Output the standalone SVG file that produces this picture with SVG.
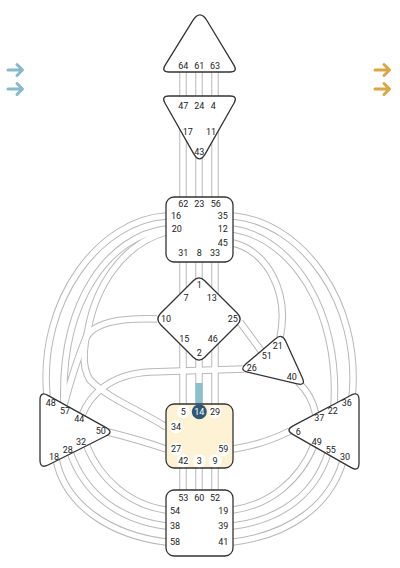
<svg xmlns="http://www.w3.org/2000/svg" width="400" height="568" viewBox="0 0 400 568">
<style>
.ch{fill:none;stroke:#b8b8b8;stroke-width:7.5}
.chi{fill:none;stroke:#ffffff;stroke-width:5.5}
.node{fill:#ffffff;stroke:#333333;stroke-width:1.3;stroke-linejoin:round}
.sac{fill:#fdf2d3;stroke:#333333;stroke-width:1.3}
.g{font-family:Roboto,'Liberation Sans',sans-serif;font-size:9px;fill:#222;text-anchor:middle;dominant-baseline:central}
.gw{fill:#ffffff}
</style>
<defs>
<g id="arrowL"><path d="M8,0 H22 M17,-5.5 L22.5,0 L17,5.5" fill="none" stroke-width="3" stroke-linecap="round" stroke-linejoin="round"/></g>
</defs>
<g id="arrows">
<use href="#arrowL" x="0" y="70" stroke="#86b9c9"/>
<use href="#arrowL" x="0" y="89" stroke="#86b9c9"/>
<use href="#arrowL" x="367" y="70" stroke="#dca645"/>
<use href="#arrowL" x="367" y="89" stroke="#dca645"/>
</g>
<g id="connectors">
<g class="ch">
<path d="M183,65 V110"/><path d="M199,65 V110"/><path d="M215,65 V110"/>
<path d="M183,130 V205"/><path d="M199,150 V205"/><path d="M215,130 V205"/>
<path d="M183,255 V300"/><path d="M199,255 V290"/><path d="M215,255 V300"/>
<path d="M183,340 V410"/><path d="M199,350 V410"/><path d="M215,340 V410"/>
<path d="M183,460 V500"/><path d="M199,460 V500"/><path d="M215,460 V500"/>
<path d="M166,216 C100,220 38,300 47,396"/>
<path d="M166,229 C110,236 60,300 64,405"/>
<path d="M166,232 C120,245 95,290 88,330"/>
<path d="M157,319 C120,318 92,322 85,340 C75,365 68,390 64,405"/>
<path d="M244,369 L150,372 C110,374 90,395 82,415"/>
<path d="M166,427 C140,410 110,400 90,380 C80,365 85,340 88,330"/>
<path d="M108,432 Q140,440 166,449"/>
<path d="M233,216 C300,222 362,300 352,398"/>
<path d="M233,229 C292,238 340,310 334,406"/>
<path d="M233,243 C265,250 290,290 280,338"/>
<path d="M240,322 L262,352"/>
<path d="M298,382 Q312,395 316,415"/>
<path d="M233,449 Q262,445 290,431"/>
<path d="M233,510 C270,505 300,480 314,445"/>
<path d="M233,526 C280,520 315,495 328,453"/>
<path d="M233,542 C290,535 330,505 343,461"/>
<path d="M166,510 C130,505 100,480 86,444"/>
<path d="M166,526 C120,520 85,495 70,452"/>
<path d="M166,542 C110,535 65,505 56,459"/>
</g>
<g class="chi">
<path d="M183,65 V110"/><path d="M199,65 V110"/><path d="M215,65 V110"/>
<path d="M183,130 V205"/><path d="M199,150 V205"/><path d="M215,130 V205"/>
<path d="M183,255 V300"/><path d="M199,255 V290"/><path d="M215,255 V300"/>
<path d="M183,340 V410"/><path d="M199,350 V410"/><path d="M215,340 V410"/>
<path d="M183,460 V500"/><path d="M199,460 V500"/><path d="M215,460 V500"/>
<path d="M166,216 C100,220 38,300 47,396"/>
<path d="M166,229 C110,236 60,300 64,405"/>
<path d="M166,232 C120,245 95,290 88,330"/>
<path d="M157,319 C120,318 92,322 85,340 C75,365 68,390 64,405"/>
<path d="M244,369 L150,372 C110,374 90,395 82,415"/>
<path d="M166,427 C140,410 110,400 90,380 C80,365 85,340 88,330"/>
<path d="M108,432 Q140,440 166,449"/>
<path d="M233,216 C300,222 362,300 352,398"/>
<path d="M233,229 C292,238 340,310 334,406"/>
<path d="M233,243 C265,250 290,290 280,338"/>
<path d="M240,322 L262,352"/>
<path d="M298,382 Q312,395 316,415"/>
<path d="M233,449 Q262,445 290,431"/>
<path d="M233,510 C270,505 300,480 314,445"/>
<path d="M233,526 C280,520 315,495 328,453"/>
<path d="M233,542 C290,535 330,505 343,461"/>
<path d="M166,510 C130,505 100,480 86,444"/>
<path d="M166,526 C120,520 85,495 70,452"/>
<path d="M166,542 C110,535 65,505 56,459"/>
</g>
<rect x="195.5" y="383" width="7" height="22" fill="#8bbfcf"/>
</g>
<g id="head">
<path class="node" d="M192.6,20.9 Q200,9 207.2,21 L233.9,65.2 Q238,72 230,72 L169,72 Q161,72 165.2,65.2 Z"/>
<text class="g" x="183.3" y="65.7">64</text><text class="g" x="199.3" y="65.7">61</text><text class="g" x="215" y="65.7">63</text>
</g>
<g id="ajna">
<path class="node" d="M169,96 L230,96 Q238,96 234.1,103 L205.4,153.6 Q199.5,164 193.6,153.6 L164.9,103 Q161,96 169,96 Z"/>
<text class="g" x="183.3" y="106">47</text><text class="g" x="199.3" y="106">24</text><text class="g" x="213.3" y="106">4</text>
<text class="g" x="187.7" y="131.7">17</text><text class="g" x="211" y="131.7">11</text><text class="g" x="199.3" y="151.7">43</text>
</g>
<g id="throat">
<rect class="node" x="166" y="197" width="67" height="65" rx="8"/>
<text class="g" x="183.3" y="204">62</text><text class="g" x="199.3" y="204">23</text><text class="g" x="215.7" y="204">56</text>
<text class="g" x="176" y="216">16</text><text class="g" x="176.7" y="229.3">20</text>
<text class="g" x="222.7" y="216">35</text><text class="g" x="222.7" y="229.3">12</text><text class="g" x="222.7" y="242.7">45</text>
<text class="g" x="183.3" y="253.3">31</text><text class="g" x="199.3" y="253.3">8</text><text class="g" x="215" y="253.3">33</text>
</g>
<g id="g-center">
<path class="node" d="M193.3,280.7 Q199,275 204.7,280.7 L237.3,313.3 Q243,319 237.3,324.7 L204.7,357.3 Q199,363 193.3,357.3 L160.7,324.7 Q155,319 160.7,313.3 Z"/>
<text class="g" x="199.3" y="285">1</text><text class="g" x="186" y="298.3">7</text><text class="g" x="211.7" y="298.3">13</text>
<text class="g" x="166" y="319.3">10</text><text class="g" x="232.7" y="319.3">25</text>
<text class="g" x="184.3" y="339.3">15</text><text class="g" x="212.7" y="339.3">46</text><text class="g" x="199.3" y="352.7">2</text>
</g>
<g id="heart">
<path class="node" d="M275.2,338.9 Q282,333 285.7,341.2 L302.3,377.8 Q306,386 297.3,383.9 L247.7,372.1 Q239,370 245.8,364.1 Z"/>
<text class="g" x="277.7" y="346">21</text><text class="g" x="266.7" y="356">51</text><text class="g" x="251.7" y="368.3">26</text><text class="g" x="291.7" y="376.7">40</text>
</g>
<g id="spleen">
<path class="node" d="M40,400 Q40,391 47.9,395.4 L106.1,427.6 Q114,432 105.9,436 L48.1,465 Q40,469 40,460 Z"/>
<text class="g" x="50.7" y="403.3">48</text><text class="g" x="65" y="410.7">57</text><text class="g" x="79.3" y="419.3">44</text><text class="g" x="100.7" y="430.7">50</text>
<text class="g" x="81" y="442.3">32</text><text class="g" x="67.7" y="450">28</text><text class="g" x="54" y="456.7">18</text>
</g>
<g id="solar-plexus">
<path class="node" d="M351,395.2 Q359,391 359,400 L359,463 Q359,472 351.2,467.6 L292.8,434.4 Q285,430 293,425.8 Z"/>
<text class="g" x="346.7" y="402.7">36</text><text class="g" x="332.7" y="410.7">22</text><text class="g" x="319.3" y="418.3">37</text><text class="g" x="298.3" y="431.7">6</text>
<text class="g" x="316.7" y="441.7">49</text><text class="g" x="330.7" y="450">55</text><text class="g" x="345" y="456.7">30</text>
</g>
<g id="sacral">
<rect class="sac" x="166" y="404" width="67" height="64" rx="8"/>
<g class="gw">
<circle cx="183.3" cy="411.7" r="6.5"/><circle cx="215" cy="411.7" r="6.5"/><circle cx="176" cy="426.7" r="6.5"/>
<circle cx="176" cy="449.3" r="6.5"/><circle cx="223.3" cy="449.3" r="6.5"/><circle cx="183.3" cy="460.7" r="6.5"/>
<circle cx="199.3" cy="460.7" r="6.5"/><circle cx="215" cy="460.7" r="6.5"/>
</g>
<circle cx="199.3" cy="411.7" r="7.5" fill="#2d5877"/>
<text class="g" x="183.3" y="411.7">5</text><text class="g" x="199.3" y="411.7" style="fill:#ffffff">14</text><text class="g" x="215" y="411.7">29</text>
<text class="g" x="176" y="426.7">34</text><text class="g" x="176" y="449.3">27</text><text class="g" x="223.3" y="449.3">59</text>
<text class="g" x="183.3" y="460.7">42</text><text class="g" x="199.3" y="460.7">3</text><text class="g" x="215" y="460.7">9</text>
</g>
<g id="root">
<rect class="node" x="166" y="490" width="67" height="66" rx="8"/>
<text class="g" x="183.3" y="498.3">53</text><text class="g" x="199.3" y="498.3">60</text><text class="g" x="215" y="498.3">52</text>
<text class="g" x="175" y="510.7">54</text><text class="g" x="175" y="526">38</text><text class="g" x="175" y="541.7">58</text>
<text class="g" x="223.3" y="510.7">19</text><text class="g" x="223.3" y="526">39</text><text class="g" x="223.3" y="541.7">41</text>
</g>
</svg>
